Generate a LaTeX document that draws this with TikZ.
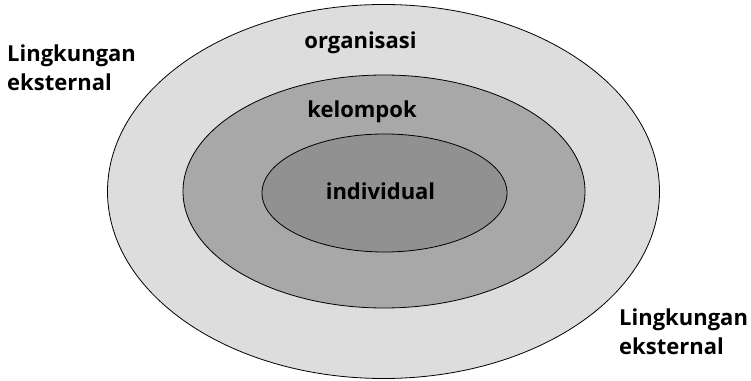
\documentclass[tikz,border=0pt]{standalone}
\usepackage{fontspec}
\setmainfont{Open Sans}
\definecolor{luar}{RGB}{221,221,221}
\definecolor{tengah}{RGB}{168,168,168}
\definecolor{dalam}{RGB}{145,145,145}
\tikzset{label text/.style={font=\bfseries\fontsize{22}{29}\selectfont, inner sep=0pt}}
\begin{document}
\begin{tikzpicture}[x=1pt,y=1pt]
        \useasboundingbox (0,0) rectangle (751,380);
        \filldraw[fill=luar, line width=0.8pt] (383.5,188.5) ellipse (276 and 187);
        \filldraw[fill=tengah, line width=0.8pt] (384,188.5) ellipse (201 and 116.5);
        \filldraw[fill=dalam, line width=0.8pt] (384.5,187) ellipse (122.5 and 59);
        \node[label text, anchor=base] (organisasi) at (360.5,331) {organisasi};
        \node[label text, anchor=base] (kelompok) at (362,262) {kelompok};
        \node[label text, anchor=base] (individual) at (380.5,180) {individual};
        \node[label text, anchor=base west, align=left] (kiri) at (7,289) {Lingkungan\\eksternal};
        \node[label text, anchor=base west, align=left] (kanan) at (619,26) {Lingkungan\\eksternal};
    \end{tikzpicture}
\end{document}
